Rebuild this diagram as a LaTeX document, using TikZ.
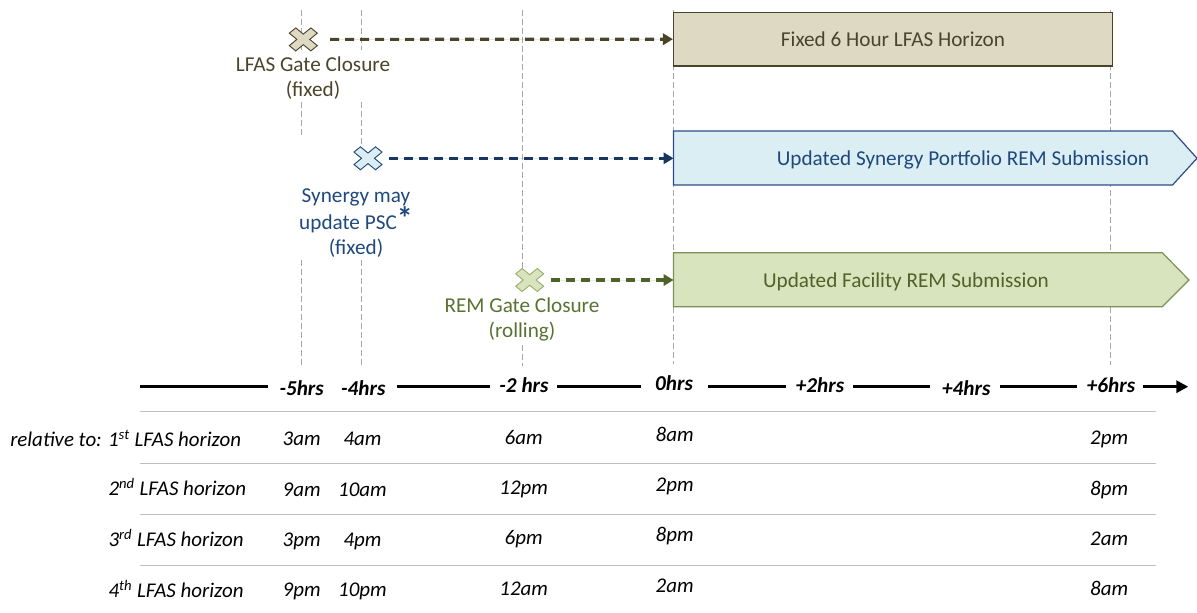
\documentclass[tikz,border=0pt]{standalone}
\usepackage{fontspec}
\setmainfont{Carlito}
\usetikzlibrary{arrows.meta}
\definecolor{lfasD}{HTML}{4A452A}
\definecolor{lfasF}{HTML}{DDD9C3}
\definecolor{synD}{HTML}{17375E}
\definecolor{synT}{HTML}{1F497D}
\definecolor{synB}{HTML}{2C4D85}
\definecolor{synF}{HTML}{DBEEF4}
\definecolor{remD}{HTML}{4F6228}
\definecolor{remT}{HTML}{5A7231}
\definecolor{remB}{HTML}{7F8F5A}
\definecolor{remX}{HTML}{9AAE6A}
\definecolor{remF}{HTML}{D7E4BD}
\definecolor{gridgray}{HTML}{A6A6A6}
\definecolor{sepgray}{HTML}{BFBFBF}
\tikzset{
  gridline/.style={draw=gridgray, line width=1.1pt, dash pattern=on 4.5pt off 2.25pt},
  sepline/.style={draw=sepgray, line width=1.1pt},
  axisline/.style={draw=black, line width=2.5pt},
  conn/.style={line width=2.4pt, dash pattern=on 6.75pt off 4.5pt, -{Triangle[length=7.5pt,width=8.5pt]}},
  lbl/.style={font=\fontsize{15.9}{18.7}\selectfont, align=center, inner sep=0pt, anchor=north},
  boxtxt/.style={font=\fontsize{15.9}{19}\selectfont, inner sep=0pt, anchor=base},
  tbl/.style={font=\fontsize{15.7}{19}\selectfont\itshape, inner sep=0pt, anchor=base},
  axl/.style={font=\fontsize{15.9}{19}\selectfont\bfseries\itshape, inner sep=0pt, anchor=base},
  xnode/.style={minimum width=21pt, minimum height=17.25pt, inner sep=0pt},
  pics/xmark/.style n args={2}{code={
    \filldraw[draw=#1, fill=#2, line width=0.7pt, xscale=14, yscale=11.5]
      (0.46,0) -- (1,0.54) -- (0.54,1) -- (0,0.46) -- (-0.54,1) -- (-1,0.54)
      -- (-0.46,0) -- (-1,-0.54) -- (-0.54,-1) -- (0,-0.46) -- (0.54,-1)
      -- (1,-0.54) -- cycle;}}
}
\begin{document}
\begin{tikzpicture}[x=0.75pt,y=-0.75pt]
\useasboundingbox (0,0) rectangle (1197,612);
% vertical dashed guide lines
\draw[gridline] (301.7,10) -- (301.7,50) (301.7,102) -- (301.7,138) (301.7,260) -- (301.7,366.7);
\draw[gridline] (361.7,10) -- (361.7,50) (361.7,102) -- (361.7,165) (361.7,260) -- (361.7,366.7);
\draw[gridline] (522.5,10) -- (522.5,282) (522.5,345) -- (522.5,366);
\draw[gridline] (673.5,10) -- (673.5,364);
\draw[gridline] (1110.5,10) -- (1110.5,365);
% boxes
\node[draw=lfasD, fill=lfasF, line width=0.9pt, minimum width=329.25pt, minimum height=40.3pt,
      inner sep=0pt, text=lfasD, font=\fontsize{15.9}{19}\selectfont] (fixed) at (893,39.2) {Fixed 6 Hour LFAS Horizon};
\draw[draw=synB, fill=synF, line width=0.9pt] (673.5,131) -- (1172.5,131) -- (1197,158.3) -- (1172.5,185) -- (673.5,185) -- cycle;
\coordinate (synW) at (673.5,158.3);
\node[boxtxt, text=synT] (syntxt) at (963,165.7) {Updated Synergy Portfolio REM Submission};
\draw[draw=remB, fill=remF, line width=0.9pt] (673.5,252.7) -- (1162.3,252.7) -- (1189,280) -- (1162.3,306.7) -- (673.5,306.7) -- cycle;
\coordinate (facW) at (673.5,280);
\node[boxtxt, text=remD] (factxt) at (906,287.5) {Updated Facility REM Submission};
% crosses
\node[xnode] (lfasX) at (303.3,39.4) {};
\pic at (lfasX) {xmark={lfasD}{lfasF}};
\node[xnode] (synX) at (368,158.3) {};
\pic at (synX) {xmark={synT}{synF}};
\node[xnode] (remX) at (529.7,280) {};
\pic at (remX) {xmark={remX}{remF}};
% connectors
\draw[conn, draw=lfasD, fill=lfasD, shorten <=9.5pt] (lfasX.east) -- (fixed.west);
\draw[conn, draw=synD, fill=synD, shorten <=5.25pt] (synX.east) -- (synW);
\draw[conn, draw=remD, fill=remD, shorten <=5.5pt] (remX.east) -- (facW);
% labels
\node[lbl, text=lfasD] (lfasL) at (313,57) {LFAS Gate Closure\\(fixed)};
\node[lbl, text=synT] (synL) at (356,188) {Synergy may\\update PSC\raisebox{0pt}{\fontsize{24}{24}\selectfont\bfseries *}\\(fixed)};
\node[lbl, text=remT] (remL) at (522,298) {REM Gate Closure\\(rolling)};
% axis
\node[axl] (m5) at (301.7,395) {-5hrs};
\node[axl] (m4) at (363.3,395) {-4hrs};
\node[axl] (m2) at (524,392.5) {-2 hrs};
\node[axl] (z0) at (674,390.7) {0hrs};
\node[axl] (p2) at (820,392.7) {+2hrs};
\node[axl] (p4) at (966.3,395) {+4hrs};
\node[axl] (p6) at (1111,392.7) {+6hrs};
\draw[axisline] (140,386.7) -- (268.4,386.7);
\draw[axisline] (396.6,386.7) -- (489.6,386.7);
\draw[axisline] (557,386.7) -- (640.5,386.7);
\draw[axisline] (708.3,386.7) -- (786,386.7);
\draw[axisline] (853,386.7) -- (930,386.7);
\draw[axisline] (1000,386.7) -- (1077,386.7);
\draw[axisline, -{Triangle[length=9pt,width=9pt]}] (1143.3,386.7) -- (1188.3,386.7);
% table separators
\draw[sepline] (140,411.7) -- (1156,411.7);
\draw[sepline] (140,463.3) -- (1156,463.3);
\draw[sepline] (140,514.3) -- (1156,514.3);
\draw[sepline] (140,565.7) -- (1156,565.7);
% row labels
\node[tbl, anchor=base west] (r1) at (10,446.7) {relative to: 1\textsuperscript{st} LFAS horizon};
\node[tbl, anchor=base west] (r2) at (108.3,495.5) {2\textsuperscript{nd} LFAS horizon};
\node[tbl, anchor=base west] (r3) at (108.3,546.7) {3\textsuperscript{rd} LFAS horizon};
\node[tbl, anchor=base west] (r4) at (108.3,597.7) {4\textsuperscript{th} LFAS horizon};
% row 1
\node[tbl] (a1) at (301.7,445) {3am};
\node[tbl] (b1) at (362.5,445) {4am};
\node[tbl] (c1) at (523.7,444) {6am};
\node[tbl] (d1) at (674.7,441.7) {8am};
\node[tbl] (e1) at (1109.2,444) {2pm};
% row 2
\node[tbl] (a2) at (301.7,496.5) {9am};
\node[tbl] (b2) at (362.5,496.5) {10am};
\node[tbl] (c2) at (523.7,494) {12pm};
\node[tbl] (d2) at (674.7,491.7) {2pm};
\node[tbl] (e2) at (1109.2,495) {8pm};
% row 3
\node[tbl] (a3) at (301.7,546.7) {3pm};
\node[tbl] (b3) at (362.5,546.7) {4pm};
\node[tbl] (c3) at (523.7,544) {6pm};
\node[tbl] (d3) at (674.7,541.7) {8pm};
\node[tbl] (e3) at (1109.2,545) {2am};
% row 4
\node[tbl] (a4) at (301.7,596.7) {9pm};
\node[tbl] (b4) at (362.5,596.7) {10pm};
\node[tbl] (c4) at (523.7,595) {12am};
\node[tbl] (d4) at (674.7,592.3) {2am};
\node[tbl] (e4) at (1109.2,595) {8am};
\end{tikzpicture}
\end{document}
